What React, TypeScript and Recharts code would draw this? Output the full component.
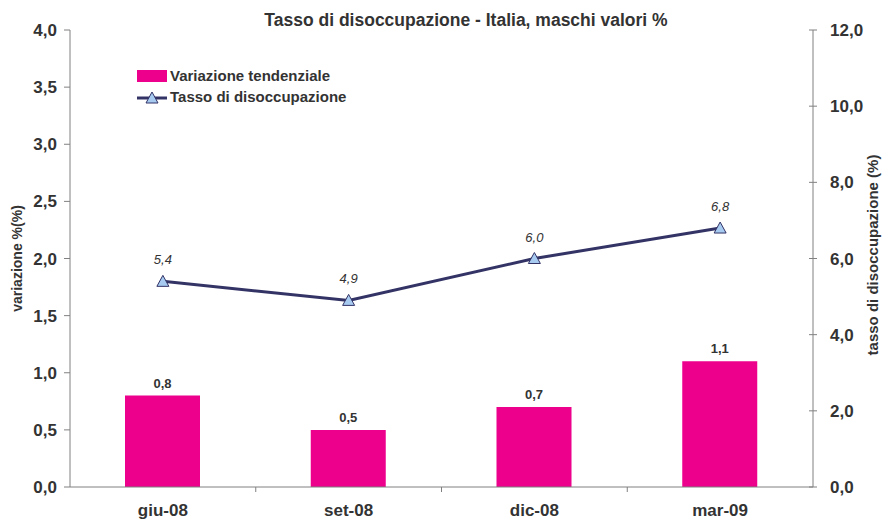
import { ComposedChart, Bar, Line, XAxis, YAxis, LabelList, Legend } from 'recharts';

const categories = ['giu-08', 'set-08', 'dic-08', 'mar-09'];
const variazione = [0.8, 0.5, 0.7, 1.1];
const tasso = [5.4, 4.9, 6.0, 6.8];
const leftTicks = [0, 0.5, 1, 1.5, 2, 2.5, 3, 3.5, 4];
const rightTicks = [0, 2, 4, 6, 8, 10, 12];

const data = categories.map((c, i) => ({ name: c, variazione: variazione[i], tasso: tasso[i] }));

const FONT = '"Liberation Sans", Arial, Helvetica, sans-serif';
const TEXT = '#333333';
const AXIS = '#808080';
const BAR = '#EC008C';
const LINE = '#333366';
const MARKER = '#A6CAF0';

const W = 882;
const H = 523;
const PLOT_LEFT = 70;
const PLOT_RIGHT = 69;
const X_AXIS_H = 36;
const AXIS_Y = H - X_AXIS_H;
const BAND = (W - PLOT_LEFT - PLOT_RIGHT) / categories.length;

const fmt = (v: number) => v.toFixed(1).replace('.', ',');

const Triangle = (props: any) => {
  const { cx, cy } = props;
  if (cx == null || cy == null) return null;
  return (
    <polygon
      points={`${cx},${cy - 6} ${cx - 6},${cy + 5} ${cx + 6},${cy + 5}`}
      fill={MARKER}
      stroke={LINE}
      strokeWidth={1}
    />
  );
};

const XTick = (props: any) => {
  const { x, payload, index } = props;
  return (
    <g>
      {index < categories.length - 1 && (
        <line x1={x + BAND / 2} x2={x + BAND / 2} y1={AXIS_Y} y2={AXIS_Y + 5} stroke={AXIS} />
      )}
      <text x={x} y={AXIS_Y + 29} textAnchor="middle" fill={TEXT} fontSize={17} fontWeight="bold" fontFamily={FONT}>
        {payload.value}
      </text>
    </g>
  );
};

const RightTick = (props: any) => {
  const { y, payload } = props;
  const axisX = W - PLOT_RIGHT;
  return (
    <g>
      <line x1={axisX - 4} x2={axisX + 4} y1={y} y2={y} stroke={AXIS} />
      <text x={axisX + 17} y={y} dy={6} textAnchor="start" fill={TEXT} fontSize={17} fontWeight="bold" fontFamily={FONT}>
        {fmt(payload.value)}
      </text>
    </g>
  );
};

const LegendContent = () => (
  <div style={{ fontFamily: FONT, fontSize: 15, fontWeight: 'bold', color: TEXT, lineHeight: '21px' }}>
    <div style={{ display: 'flex', alignItems: 'center', height: 21 }}>
      <span style={{ display: 'inline-block', width: 30, height: 12, background: BAR, marginRight: 3 }} />
      Variazione tendenziale
    </div>
    <div style={{ display: 'flex', alignItems: 'center', height: 21 }}>
      <svg width={30} height={14} style={{ marginRight: 3 }}>
        <line x1={0} x2={30} y1={8} y2={8} stroke={LINE} strokeWidth={3} />
        <polygon points="15,2 9,13 21,13" fill={MARKER} stroke={LINE} strokeWidth={1} />
      </svg>
      Tasso di disoccupazione
    </div>
  </div>
);

export default function App() {
  return (
    <div style={{ position: 'fixed', top: 0, left: 0, width: W, height: H, background: '#fff', overflow: 'hidden' }}>
      <div
        style={{
          position: 'absolute',
          top: 10,
          left: 50,
          width: 832,
          textAlign: 'center',
          fontFamily: FONT,
          fontSize: 17.5,
          fontWeight: 'bold',
          color: TEXT,
          zIndex: 2,
        }}
      >
        Tasso di disoccupazione - Italia, maschi valori %
      </div>
      <ComposedChart width={W} height={H} data={data} margin={{ top: 30, right: 0, bottom: 0, left: 0 }}>
        <XAxis
          dataKey="name"
          height={X_AXIS_H}
          stroke={AXIS}
          tickLine={false}
          tickSize={5}
          tickMargin={2}
          tick={<XTick />}
          interval={0}
        />
        <YAxis
          yAxisId="left"
          orientation="left"
          width={PLOT_LEFT}
          domain={[0, 4]}
          ticks={leftTicks}
          interval={0}
          stroke={AXIS}
          tickSize={6}
          tickMargin={7}
          tickFormatter={fmt}
          tick={{ fill: TEXT, fontSize: 17, fontWeight: 'bold', fontFamily: FONT }}
          label={{
            content: () => {
              const cx = 17;
              const cy = 30 + (AXIS_Y - 30) / 2;
              return (
                <text x={cx} y={cy} transform={`rotate(-90 ${cx} ${cy})`} textAnchor="middle" dy={5} fill={TEXT} fontSize={14} fontWeight="bold" fontFamily={FONT}>
                  variazione %(%)
                </text>
              );
            },
          }}
        />
        <YAxis
          yAxisId="right"
          orientation="right"
          width={PLOT_RIGHT}
          domain={[0, 12]}
          ticks={rightTicks}
          interval={0}
          stroke={AXIS}
          tickLine={false}
          tickSize={4}
          tickMargin={13}
          tick={<RightTick />}
          label={{
            content: () => {
              const cx = W - 9;
              const cy = 255;
              return (
                <text x={cx} y={cy} transform={`rotate(-90 ${cx} ${cy})`} textAnchor="middle" dy={5} fill={TEXT} fontSize={15} fontWeight="bold" fontFamily={FONT}>
                  tasso di disoccupazione (%)
                </text>
              );
            },
          }}
        />
        <Legend
          layout="vertical"
          align="center"
          verticalAlign="middle"
          content={<LegendContent />}
          wrapperStyle={{ top: 65, left: 137, width: 300 }}
        />
        <Bar yAxisId="left" dataKey="variazione" fill={BAR} barSize={75} isAnimationActive={false}>
          <LabelList dataKey="variazione" position="top" offset={8} formatter={(v: any) => fmt(Number(v))} fill={TEXT} fontSize={13} fontWeight="bold" fontFamily={FONT} />
        </Bar>
        <Line
          yAxisId="right"
          dataKey="tasso"
          stroke={LINE}
          strokeWidth={3}
          dot={<Triangle />}
          activeDot={false}
          isAnimationActive={false}
        >
          <LabelList dataKey="tasso" position="top" offset={17} formatter={(v: any) => fmt(Number(v))} fill={TEXT} fontSize={13} fontStyle="italic" fontFamily={FONT} />
        </Line>
      </ComposedChart>
    </div>
  );
}
